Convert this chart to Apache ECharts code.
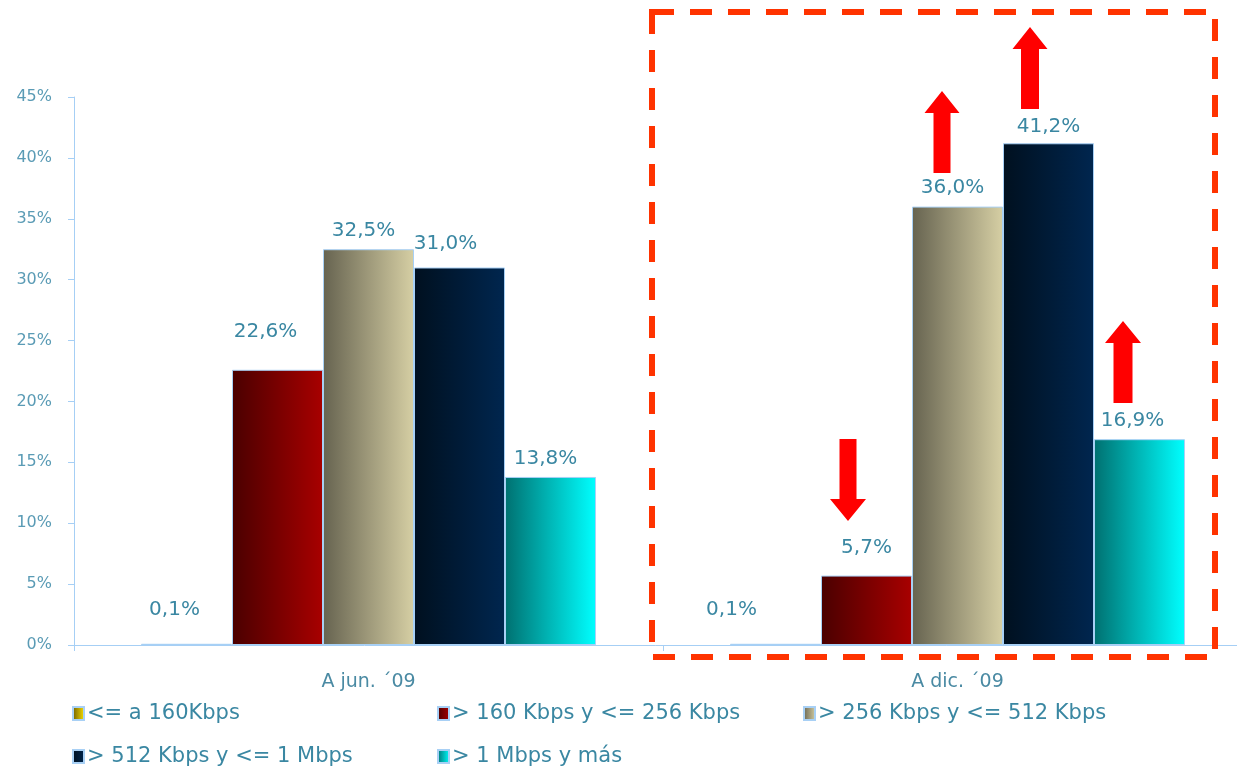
<!DOCTYPE html>
<html>
<head>
<meta charset="utf-8">
<script src="https://cdn.jsdelivr.net/npm/echarts@6/dist/echarts.min.js"></script>
<style>html,body{margin:0;padding:0;background:#fff;}#c{width:1237px;height:769px;}</style>
</head>
<body>
<div id="c"></div>
<script>
// ---- data ----
var categories = ['A jun. \u00b409', 'A dic. \u00b409'];
var seriesNames = ['<= a 160Kbps', '> 160 Kbps y <= 256 Kbps', '> 256 Kbps y <= 512 Kbps', '> 512 Kbps y <= 1 Mbps', '> 1 Mbps y más'];
var s1 = [0.1, 0.1];
var s2 = [22.6, 5.7];
var s3 = [32.5, 36.0];
var s4 = [31.0, 41.2];
var s5 = [13.8, 16.9];
var yTicks = [0, 5, 10, 15, 20, 25, 30, 35, 40, 45];

// ---- styling ----
var FONT = 'DejaVu Sans';
var gradients = [
  ['#6B5A00', '#FFE400'],
  ['#4A0000', '#A80000'],
  ['#666350', '#D6CFA4'],
  ['#00101F', '#00264F'],
  ['#007070', '#00FFFF']
];
// label nudges [dx, dy] per series per category
var labelNudge = [
  [[-12, -19], [-44, -19]],
  [[-12, -23], [0, -13]],
  [[-5, -3], [-5, -4]],
  [[-14, -9], [0, -1]],
  [[-5, -3], [-7, -3]]
];
var allValues = [s1, s2, s3, s4, s5];

function grad(c) {
  return new echarts.graphic.LinearGradient(0, 0, 1, 0, [
    {offset: 0, color: c[0]}, {offset: 1, color: c[1]}
  ]);
}
function fmt(v) { return v.toFixed(1).replace('.', ',') + '%'; }

var series = allValues.map(function (vals, i) {
  return {
    name: seriesNames[i],
    type: 'bar',
    barWidth: 91,
    barGap: '0%',
    itemStyle: {color: grad(gradients[i]), borderColor: '#A8D0F5', borderWidth: 1},
    data: vals.map(function (v, j) {
      return {value: v, label: {offset: labelNudge[i][j]}};
    }),
    label: {
      show: true, position: 'top', distance: 5,
      fontFamily: FONT, fontSize: 20, color: '#3A87A2',
      formatter: function (p) { return fmt(p.value); }
    }
  };
});

var legendPos = [[67, 698], [432, 698], [798, 698], [67, 741]];
legendPos.push([432, 741]);
var legends = seriesNames.map(function (n, i) {
  return {
    data: [n], left: legendPos[i][0], top: legendPos[i][1],
    icon: 'rect',
    itemWidth: 11, itemHeight: 13, itemGap: 4,
    textStyle: {fontFamily: FONT, fontSize: 21, color: '#3A87A2', padding: [0, 0, 0, -2]}
  };
});

function arrow(cx, tipY, headBaseY, endY, shaftW, headW) {
  return {
    type: 'polygon',
    shape: {points: [
      [cx, tipY], [cx + headW / 2, headBaseY], [cx + shaftW / 2, headBaseY],
      [cx + shaftW / 2, endY], [cx - shaftW / 2, endY], [cx - shaftW / 2, headBaseY],
      [cx - headW / 2, headBaseY]
    ]},
    style: {fill: '#FF0000'},
    z: 100
  };
}

var chart = echarts.init(document.getElementById('c'));
chart.setOption({
  animation: false,
  backgroundColor: '#ffffff',
  grid: {left: 74, right: -15, top: 97, bottom: 124, containLabel: false, outerBoundsMode: 'none'},
  legend: legends,
  xAxis: {
    type: 'category', data: categories,
    axisLine: {lineStyle: {color: '#A6CFF5', width: 1}},
    axisTick: {show: true, length: 6, lineStyle: {color: '#A6CFF5'}},
    axisLabel: {fontFamily: FONT, fontSize: 19, color: '#4A8AA3', margin: 28}
  },
  yAxis: {
    type: 'value', min: yTicks[0], max: yTicks[yTicks.length - 1], interval: yTicks[1] - yTicks[0],
    axisLine: {show: true, lineStyle: {color: '#A6CFF5', width: 1}},
    axisTick: {show: true, length: 6, lineStyle: {color: '#A6CFF5'}},
    splitLine: {show: false},
    axisLabel: {fontFamily: FONT, fontSize: 16, color: '#5A9BB5', margin: 22, formatter: '{value}%'}
  },
  series: series,
  graphic: [
    {
      type: 'rect', shape: {x: 652, y: 12, width: 563, height: 645},
      style: {fill: 'none', stroke: '#FF3300', lineWidth: 6, lineDash: [22, 16]}, z: 100
    },
    arrow(942, 91, 113, 173, 17, 35),
    arrow(1030, 27, 49, 109, 18, 35),
    arrow(1123, 321, 343, 403, 19, 36),
    arrow(848, 521, 499, 439, 17, 36)
  ]
});
</script>
</body>
</html>
